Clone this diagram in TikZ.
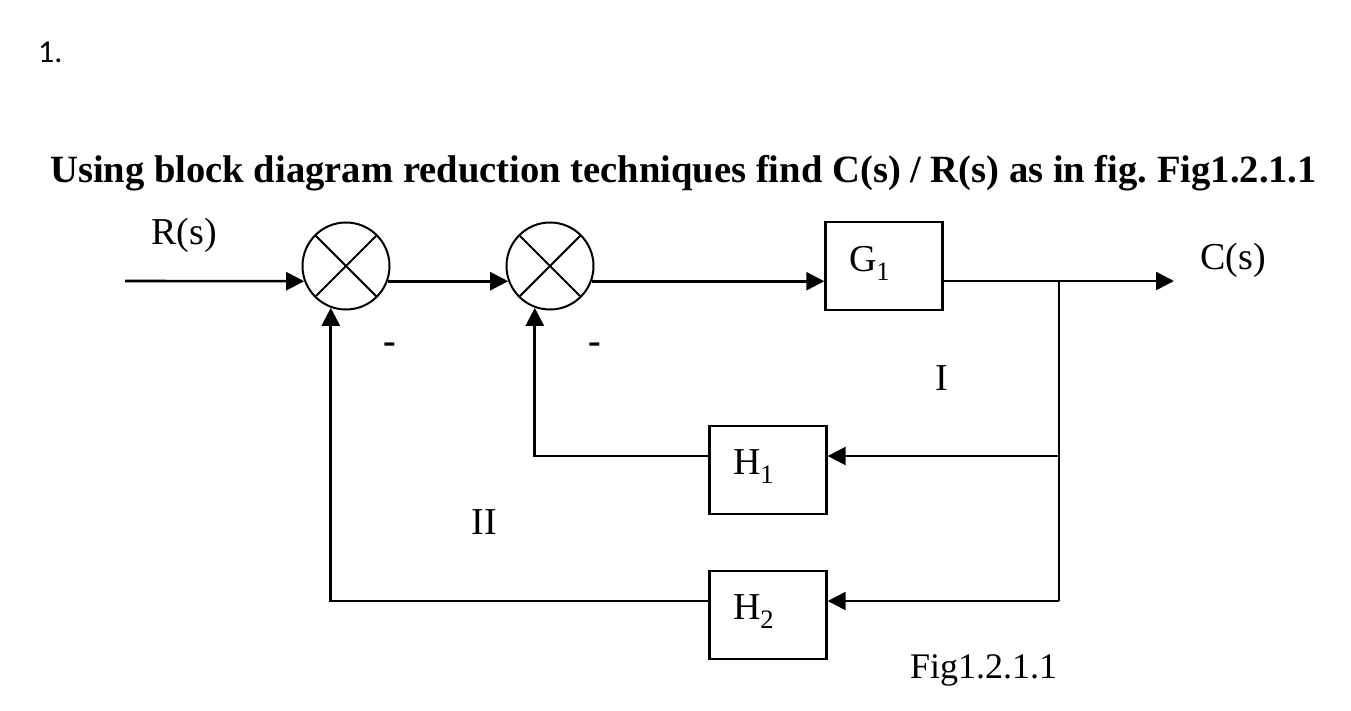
\documentclass[tikz,border=0pt]{standalone}
\usepackage{fontspec}
\setmainfont{Liberation Serif}
\newfontfamily\numfont{Carlito}
\usepackage{tikz}
\usetikzlibrary{arrows.meta}
\tikzset{
  sum/.style={circle,draw,line width=2pt,minimum size=87pt,inner sep=0pt,
    path picture={\draw[line width=2pt] (path picture bounding box.south west) -- (path picture bounding box.north east)
      (path picture bounding box.north west) -- (path picture bounding box.south east);}},
  block/.style={draw,line width=2.4pt,minimum width=117pt,minimum height=88pt,inner sep=0pt,
    text width=70pt,align=left,text depth=15pt,font=\fontsize{38}{44}\selectfont},
  lbl/.style={inner sep=0pt,font=\fontsize{38}{44}\selectfont},
  sig/.style={line width=2.6pt,-{Triangle[length=18pt,width=18pt]}}
}

\begin{document}
\begin{tikzpicture}[x=1pt,y=-1pt]
  \path[fill=white] (0,0) rectangle (1351,711);
  \node[anchor=base west,inner sep=0pt,font=\numfont\fontsize{32}{36}\selectfont] (num) at (38,63) {1.};
  \node[anchor=base west,inner sep=0pt,font=\bfseries\fontsize{38.6}{44}\selectfont] (title) at (50,183)
    {Using block diagram reduction techniques find C(s) / R(s) as in fig.\ Fig1.2.1.1};
  \node[sum] (s1) at (346,266) {};
  \node[sum] (s2) at (550,266) {};
  \node[block] (g1) at (884,266) {G\textsubscript{1}};
  \node[block] (h1) at (768,470) {H\textsubscript{1}};
  \node[block] (h2) at (768,615) {H\textsubscript{2}};
  \coordinate (in) at (125,281);
  \coordinate (out) at (1174,281);
  \coordinate (br) at (1059,281);
  \coordinate (t1) at (1059,456);
  \coordinate (t2) at (1059,601);
  \node[lbl] (r) at (184,235) {R(s)};
  \node[lbl] (c) at (1233,260) {C(s)};
  \node[lbl,font=\bfseries\fontsize{38}{44}\selectfont] (m1) at (390,348) {-};
  \node[lbl,font=\bfseries\fontsize{38}{44}\selectfont] (m2) at (595,348) {-};
  \node[lbl] (l1) at (942,378) {I};
  \node[lbl] (l2) at (484,522) {II};
  \node[lbl,font=\fontsize{36}{40}\selectfont,anchor=base west] (fig) at (910,678) {Fig1.2.1.1};
  \path[sig]
    (in) edge (s1.200)
    (s1.340) edge (s2.200)
    (s2.340) edge (s2.340 -| g1.west)
    (g1.east |- out) edge (out)
    (t1) edge (t1 -| h1.east)
    (t2) edge (t2 -| h2.east);
  \draw[line width=2.6pt] (br) -- (t2);
  \draw[sig] (t1 -| h1.west) -| (s2.250);
  \draw[sig] (t2 -| h2.west) -| (s1.250);
\end{tikzpicture}
\end{document}
